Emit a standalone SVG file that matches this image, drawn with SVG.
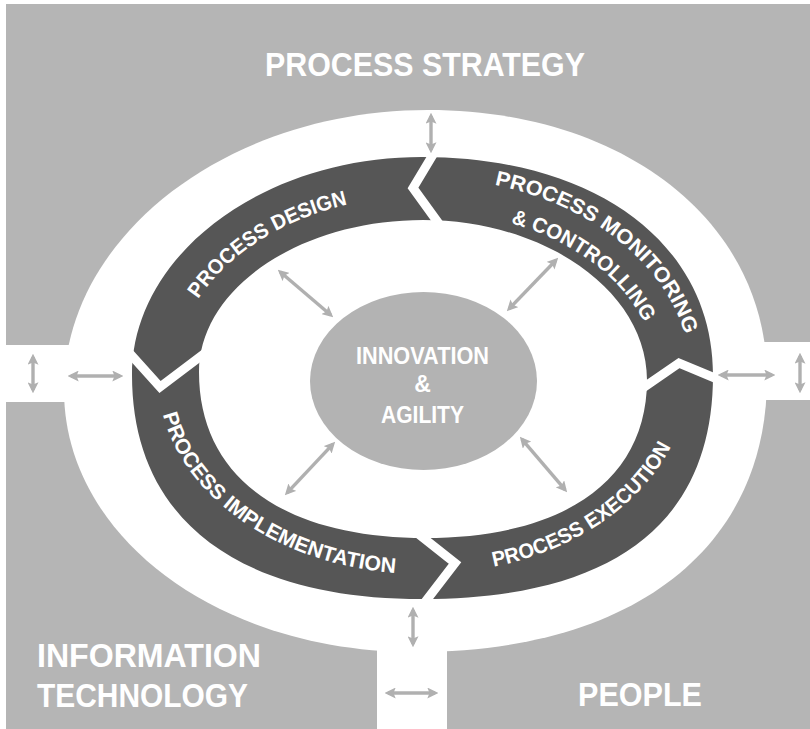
<svg xmlns="http://www.w3.org/2000/svg" width="810" height="729" viewBox="0 0 810 729">
<defs>
<style>
.gray{fill:#b5b5b5}
.white{fill:#ffffff}
.ring{fill:#565656;fill-rule:evenodd}
.gap{fill:none;stroke:#ffffff;stroke-width:9;stroke-linejoin:miter;stroke-miterlimit:10}
.conn line{stroke:#b0b0b0;stroke-width:3.4;marker-start:url(#ah);marker-end:url(#ah)}
.big{font-family:"Liberation Sans",Arial,sans-serif;font-weight:bold;font-size:33px;fill:#ffffff}
.mid{font-family:"Liberation Sans",Arial,sans-serif;font-weight:bold;font-size:23px;fill:#ffffff}
.band{font-family:"Liberation Sans",Arial,sans-serif;font-weight:bold;font-size:21px;fill:#ffffff}
</style>
<marker id="ah" viewBox="0 0 10 10" refX="7" refY="5" markerWidth="11" markerHeight="11" markerUnits="userSpaceOnUse" orient="auto-start-reverse">
<path d="M0,0 L10,5 L0,10 L2,5 Z" fill="#b0b0b0"/>
</marker>
<path id="pDesign" d="M198.3,299.1 A249,181 0 0 1 350.2,203.9"/>
<path id="pMon1" d="M494.6,184.8 A268,199.5 0 0 1 685.6,337.2"/>
<path id="pMon2" d="M510.7,223.1 A234,166 0 0 1 644.9,324.3"/>
<path id="pImpl" d="M162.9,414.6 A265,197 0 0 0 397.6,573.1"/>
<path id="pExec" d="M493.8,566.8 A265,197 0 0 0 672,444.4"/>
</defs>

<g id="background">
<rect x="0" y="0" width="810" height="729" class="white"/>
<rect x="6" y="4" width="804" height="725" class="gray"/>
<path class="white" d="M767,378 C767,547.9 633.2,652 415,652 C218.4,652 64,536.7 64,390 C64,236 227.8,110 428,110 C624.6,110 767,222.6 767,378 Z"/>
<rect x="0" y="345" width="130" height="57" class="white"/>
<rect x="700" y="342" width="110" height="58" class="white"/>
<rect x="377" y="560" width="70" height="169" class="white"/>
</g>

<g id="cycle-ring">
<path class="ring" d="M713,375 C713,522.8 614.1,599 422,599 C236.4,599 132,518.4 132,375 C132,255.1 262.5,157 422,157 C596.6,157 713,244.2 713,375 Z M647,380 C647,479.5 564.9,538 425,538 C282.6,538 199,476.6 199,372 C199,288.4 299.8,220 423,220 C546.2,220 647,292 647,380 Z"/>
<polyline class="gap" points="437,148 413,188 442,228"/>
<polyline class="gap" points="124,347 160,387 209,350"/>
<polyline class="gap" points="637,392 679,363 722,381"/>
<polyline class="gap" points="407,525 455,563 422,606"/>
</g>

<g id="node-strategy">
<text class="big" x="425" y="76" text-anchor="middle" textLength="320" lengthAdjust="spacingAndGlyphs">PROCESS STRATEGY</text>
</g>
<g id="node-it">
<text class="big" x="37" y="667" textLength="224" lengthAdjust="spacingAndGlyphs">INFORMATION</text>
<text class="big" x="37" y="707" textLength="211" lengthAdjust="spacingAndGlyphs">TECHNOLOGY</text>
</g>
<g id="node-people">
<text class="big" x="578" y="706" textLength="124" lengthAdjust="spacingAndGlyphs">PEOPLE</text>
</g>

<g id="node-innovation">
<ellipse cx="423.5" cy="381" rx="113.5" ry="89" fill="#b3b3b3"/>
<text class="mid" x="422.5" y="364" text-anchor="middle" textLength="133" lengthAdjust="spacingAndGlyphs">INNOVATION</text>
<text class="mid" x="422.5" y="392" text-anchor="middle">&amp;</text>
<text class="mid" x="422.5" y="423" text-anchor="middle" textLength="83" lengthAdjust="spacingAndGlyphs">AGILITY</text>
</g>

<g id="node-design">
<text class="band"><textPath href="#pDesign" textLength="181" lengthAdjust="spacingAndGlyphs">PROCESS DESIGN</textPath></text>
</g>
<g id="node-monitoring">
<text class="band"><textPath href="#pMon1" textLength="254" lengthAdjust="spacingAndGlyphs">PROCESS MONITORING</textPath></text>
<text class="band"><textPath href="#pMon2" textLength="171" lengthAdjust="spacingAndGlyphs">&amp; CONTROLLING</textPath></text>
</g>
<g id="node-implementation">
<text class="band"><textPath href="#pImpl" textLength="299" lengthAdjust="spacingAndGlyphs">PROCESS IMPLEMENTATION</textPath></text>
</g>
<g id="node-execution">
<text class="band"><textPath href="#pExec" textLength="221" lengthAdjust="spacingAndGlyphs">PROCESS EXECUTION</textPath></text>
</g>

<g id="connectors" class="conn">
<line x1="431" y1="116" x2="431" y2="150"/>
<line x1="33" y1="357" x2="33" y2="390"/>
<line x1="71" y1="376" x2="120" y2="376"/>
<line x1="721" y1="375" x2="772" y2="375"/>
<line x1="800" y1="356" x2="800" y2="390"/>
<line x1="413" y1="610" x2="413" y2="644"/>
<line x1="388" y1="693" x2="435" y2="693"/>
<line x1="280.3" y1="272" x2="330.7" y2="315"/>
<line x1="555.9" y1="260.2" x2="509.1" y2="308.8"/>
<line x1="332.9" y1="444.2" x2="287.1" y2="492.8"/>
<line x1="522" y1="439.3" x2="565" y2="489.7"/>
</g>
</svg>
